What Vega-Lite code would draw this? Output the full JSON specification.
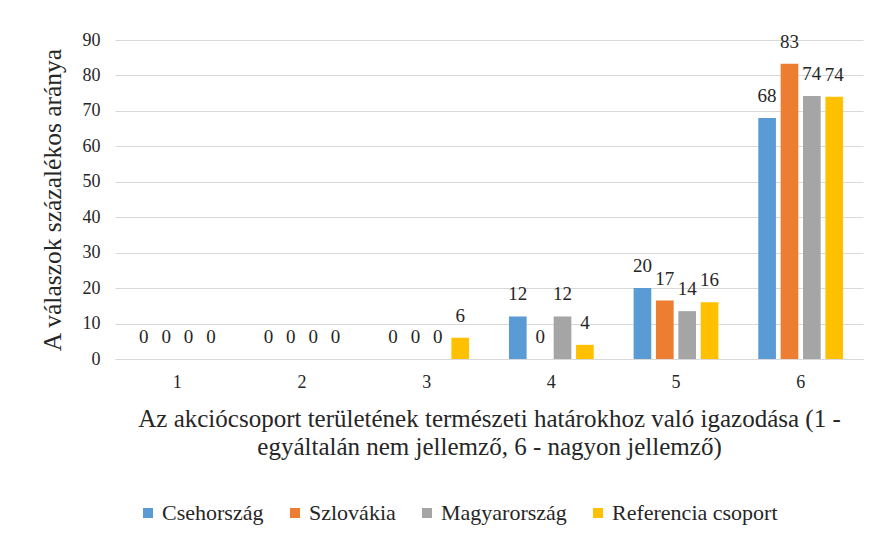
{
  "$schema": "https://vega.github.io/schema/vega-lite/v6.json",
  "width": 748,
  "height": 319,
  "autosize": {"type": "none"},
  "padding": {"left": 115, "top": 40, "right": 18, "bottom": 178},
  "background": "white",
  "config": {
    "font": "Liberation Serif",
    "view": {"stroke": null},
    "axis": {"labelFont": "Liberation Serif", "titleFont": "Liberation Serif", "labelColor": "#262626", "titleColor": "#262626", "titleFontWeight": "normal"},
    "legend": {"labelFont": "Liberation Serif"}
  },
  "data": {
    "values": [
      {"kat": "1", "orszag": "Csehország", "ertek": 0},
      {"kat": "1", "orszag": "Szlovákia", "ertek": 0},
      {"kat": "1", "orszag": "Magyarország", "ertek": 0},
      {"kat": "1", "orszag": "Referencia csoport", "ertek": 0},
      {"kat": "2", "orszag": "Csehország", "ertek": 0},
      {"kat": "2", "orszag": "Szlovákia", "ertek": 0},
      {"kat": "2", "orszag": "Magyarország", "ertek": 0},
      {"kat": "2", "orszag": "Referencia csoport", "ertek": 0},
      {"kat": "3", "orszag": "Csehország", "ertek": 0},
      {"kat": "3", "orszag": "Szlovákia", "ertek": 0},
      {"kat": "3", "orszag": "Magyarország", "ertek": 0},
      {"kat": "3", "orszag": "Referencia csoport", "ertek": 6},
      {"kat": "4", "orszag": "Csehország", "ertek": 12},
      {"kat": "4", "orszag": "Szlovákia", "ertek": 0},
      {"kat": "4", "orszag": "Magyarország", "ertek": 12},
      {"kat": "4", "orszag": "Referencia csoport", "ertek": 4},
      {"kat": "5", "orszag": "Csehország", "ertek": 20},
      {"kat": "5", "orszag": "Szlovákia", "ertek": 16.5},
      {"kat": "5", "orszag": "Magyarország", "ertek": 13.5},
      {"kat": "5", "orszag": "Referencia csoport", "ertek": 16},
      {"kat": "6", "orszag": "Csehország", "ertek": 68},
      {"kat": "6", "orszag": "Szlovákia", "ertek": 83.3},
      {"kat": "6", "orszag": "Magyarország", "ertek": 74.2},
      {"kat": "6", "orszag": "Referencia csoport", "ertek": 74}
    ]
  },
  "encoding": {
    "x": {
      "field": "kat", "type": "nominal",
      "scale": {"paddingInner": 0.32, "paddingOuter": 0.16},
      "axis": {
        "labelAngle": 0, "labelFontSize": 18, "labelPadding": 14, "ticks": false,
        "domain": true, "domainColor": "#d9d9d9", "domainWidth": 1,
        "title": ["Az akciócsoport területének természeti határokhoz való igazodása (1 -", "egyáltalán nem jellemző, 6 - nagyon jellemző)"],
        "titleFontSize": 25, "titlePadding": 15, "titleLineHeight": 28
      }
    },
    "xOffset": {
      "field": "orszag", "type": "nominal",
      "sort": ["Csehország", "Szlovákia", "Magyarország", "Referencia csoport"],
      "scale": {"paddingInner": 0.21, "paddingOuter": 0}
    },
    "y": {
      "field": "ertek", "type": "quantitative",
      "scale": {"domain": [0, 90]},
      "axis": {
        "values": [0, 10, 20, 30, 40, 50, 60, 70, 80, 90],
        "domain": false, "ticks": false, "labelFontSize": 18, "labelPadding": 15,
        "gridColor": "#d9d9d9", "gridWidth": 1,
        "title": "A válaszok százalékos aránya", "titleFontSize": 25.5, "titlePadding": 17
      }
    }
  },
  "layer": [
    {
      "mark": {"type": "bar"},
      "encoding": {
        "color": {
          "field": "orszag", "type": "nominal",
          "sort": ["Csehország", "Szlovákia", "Magyarország", "Referencia csoport"],
          "scale": {"domain": ["Csehország", "Szlovákia", "Magyarország", "Referencia csoport"], "range": ["#5b9bd5", "#ed7d31", "#a5a5a5", "#ffc000"]},
          "legend": {
            "title": null, "orient": "none", "direction": "horizontal",
            "legendX": 22, "legendY": 462,
            "symbolType": "square", "symbolSize": 100, "symbolStrokeWidth": 0,
            "labelFontSize": 22, "labelLimit": 400, "labelColor": "#262626", "columnPadding": 20, "labelOffset": 3
          }
        }
      }
    },
    {
      "mark": {"type": "text", "baseline": "bottom", "dy": -12, "fontSize": 19, "color": "#262626", "font": "Liberation Serif"},
      "encoding": {
        "text": {"field": "ertek", "type": "quantitative", "format": ".0f"}
      }
    }
  ]
}
